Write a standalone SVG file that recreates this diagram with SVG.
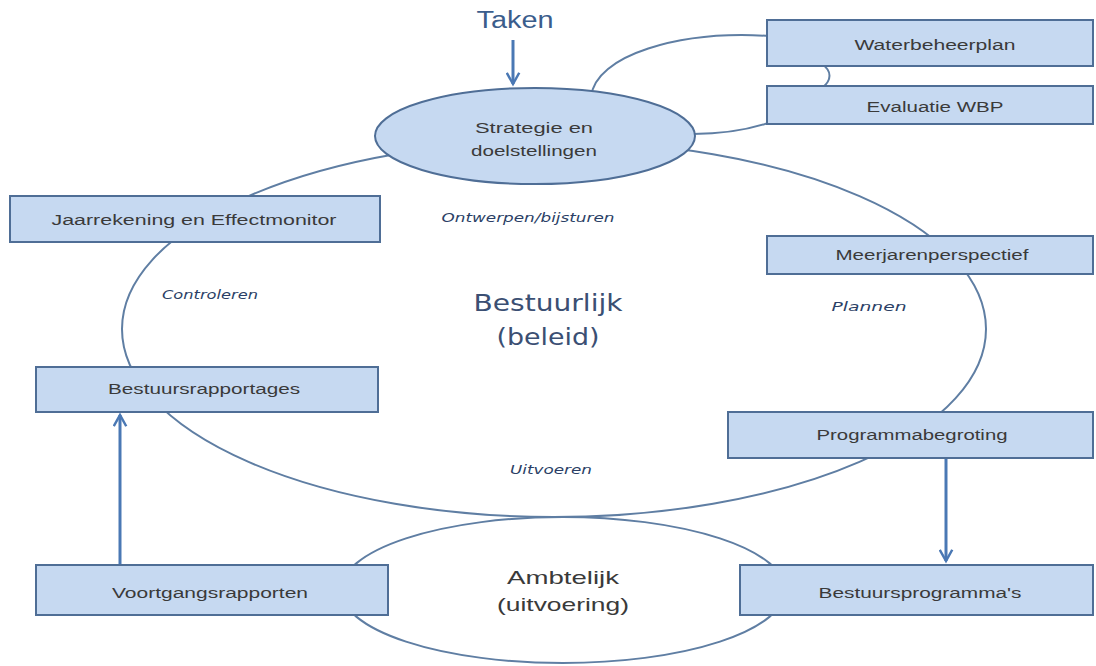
<svg xmlns="http://www.w3.org/2000/svg" width="1096" height="666" viewBox="0 0 1096 666">
<defs>
<style>
.box{fill:#c6d9f1;stroke:#4f6e96;stroke-width:2}
.ring{fill:none;stroke:#5f7ea3;stroke-width:2}
.bt{font-family:"Liberation Sans",Arial,sans-serif;font-size:14px;fill:#3a3a3a;text-anchor:middle}
.lab{font-family:"DejaVu Sans",Verdana,sans-serif;font-size:12px;font-style:italic;fill:#2b3f66;text-anchor:middle}
.big{font-family:"DejaVu Sans",Verdana,sans-serif;font-size:23px;fill:#3b4f73;text-anchor:middle}
.amb{font-family:"Liberation Sans",Arial,sans-serif;font-size:19px;fill:#3a3a3a;text-anchor:middle}
.arr{fill:none;stroke:#4a78b4;stroke-width:3}
</style>
<marker id="ah" viewBox="0 0 12 12" refX="10" refY="6" markerWidth="5" markerHeight="5" markerUnits="strokeWidth" orient="auto">
<path d="M1,1 L10,6 L1,11" fill="none" stroke="#4a78b4" stroke-width="2"/>
</marker>
</defs>
<rect width="1096" height="666" fill="#ffffff"/>
<g id="connectors">
<ellipse id="cycle" class="ring" cx="554" cy="329" rx="432" ry="188"/>
<path id="wbp-loop" class="ring" d="M591,97 C595,55 680,30 770,36 M822,64 C832,71 832,80 822,88 M693,134 C725,134 752,129 774,121"/>
<line class="arr" x1="513" y1="40" x2="513" y2="84" marker-end="url(#ah)"/>
<line class="arr" x1="120" y1="564" x2="120" y2="415" marker-end="url(#ah)"/>
<line class="arr" x1="946" y1="458" x2="946" y2="561" marker-end="url(#ah)"/>
</g>
<g id="ambtelijk">
<ellipse class="ring" cx="563" cy="590" rx="222" ry="73" fill="#ffffff"/>
<text class="amb" x="563" y="584" textLength="112" lengthAdjust="spacingAndGlyphs">Ambtelijk</text>
<text class="amb" x="563" y="611" textLength="132" lengthAdjust="spacingAndGlyphs">(uitvoering)</text>
</g>
<g id="taken">
<text x="515" y="28" font-family="Liberation Sans,Arial,sans-serif" font-size="23" fill="#3b5d8c" text-anchor="middle" textLength="77" lengthAdjust="spacingAndGlyphs">Taken</text>
</g>
<g id="strategie">
<ellipse cx="535" cy="136" rx="160" ry="48" fill="#c6d9f1" stroke="#4f6e96" stroke-width="2"/>
<text class="bt" x="534" y="133" textLength="118" lengthAdjust="spacingAndGlyphs">Strategie  en</text>
<text class="bt" x="534" y="156" textLength="126" lengthAdjust="spacingAndGlyphs">doelstellingen</text>
</g>
<g id="waterbeheerplan">
<rect class="box" x="767" y="20" width="326" height="46"/>
<text class="bt" x="935" y="50" textLength="161" lengthAdjust="spacingAndGlyphs">Waterbeheerplan</text>
</g>
<g id="evaluatie">
<rect class="box" x="767" y="86" width="326" height="38"/>
<text class="bt" x="935" y="112" textLength="137" lengthAdjust="spacingAndGlyphs">Evaluatie  WBP</text>
</g>
<g id="jaarrekening">
<rect class="box" x="10" y="196" width="370" height="46"/>
<text class="bt" x="194" y="225" textLength="285" lengthAdjust="spacingAndGlyphs">Jaarrekening  en Effectmonitor</text>
</g>
<g id="meerjaren">
<rect class="box" x="767" y="236" width="326" height="38"/>
<text class="bt" x="932" y="260" textLength="193" lengthAdjust="spacingAndGlyphs">Meerjarenperspectief</text>
</g>
<g id="bestuursrapportages">
<rect class="box" x="36" y="367" width="342" height="45"/>
<text class="bt" x="204" y="394" textLength="192" lengthAdjust="spacingAndGlyphs">Bestuursrapportages</text>
</g>
<g id="programmabegroting">
<rect class="box" x="728" y="412" width="365" height="46"/>
<text class="bt" x="912" y="440" textLength="191" lengthAdjust="spacingAndGlyphs">Programmabegroting</text>
</g>
<g id="voortgangsrapporten">
<rect class="box" x="36" y="565" width="352" height="50"/>
<text class="bt" x="210" y="598" textLength="196" lengthAdjust="spacingAndGlyphs">Voortgangsrapporten</text>
</g>
<g id="bestuursprogrammas">
<rect class="box" x="740" y="565" width="353" height="50"/>
<text class="bt" x="920" y="598" textLength="203" lengthAdjust="spacingAndGlyphs">Bestuursprogramma's</text>
</g>
<g id="labels">
<text class="lab" x="528" y="222" textLength="173" lengthAdjust="spacingAndGlyphs">Ontwerpen/bijsturen</text>
<text class="lab" x="210" y="299" textLength="96" lengthAdjust="spacingAndGlyphs">Controleren</text>
<text class="lab" x="869" y="311" textLength="75" lengthAdjust="spacingAndGlyphs">Plannen</text>
<text class="lab" x="551" y="474" textLength="82" lengthAdjust="spacingAndGlyphs">Uitvoeren</text>
<text class="big" x="548" y="311" textLength="149" lengthAdjust="spacingAndGlyphs">Bestuurlijk</text>
<text class="big" x="548" y="345" textLength="103" lengthAdjust="spacingAndGlyphs">(beleid)</text>
</g>
</svg>
